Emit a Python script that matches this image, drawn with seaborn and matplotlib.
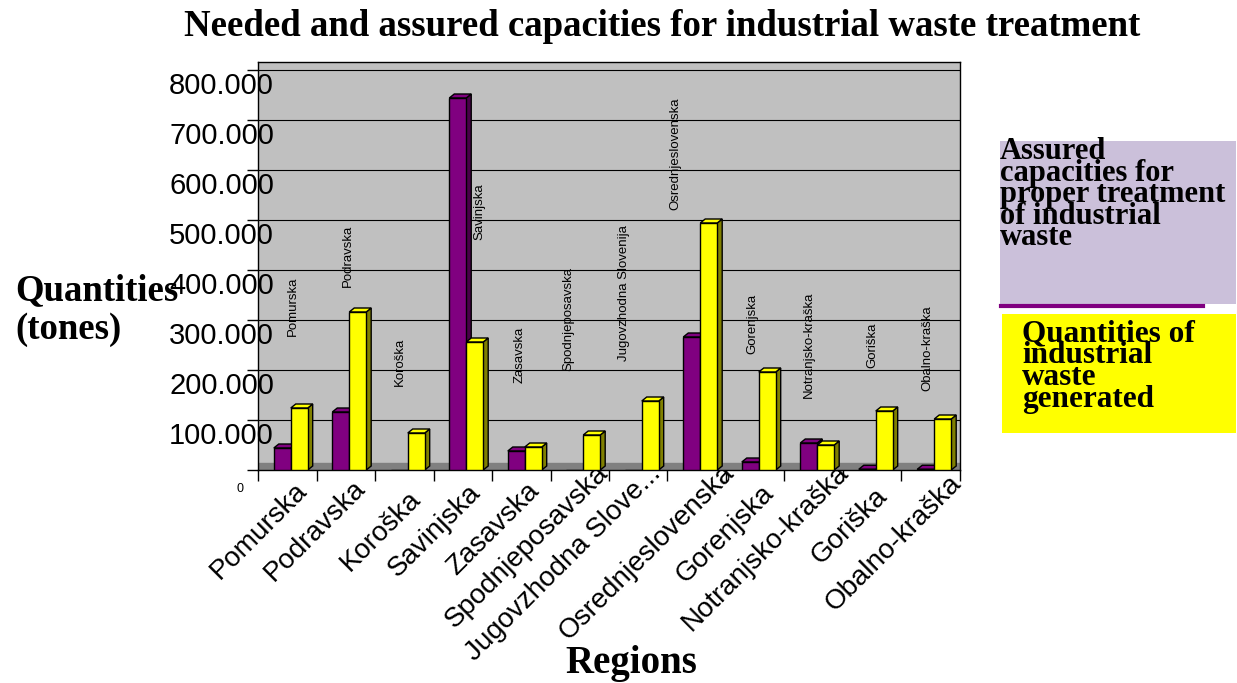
import numpy as np
import pandas as pd
import matplotlib.pyplot as plt
import matplotlib.transforms as mtransforms
from matplotlib.patches import Polygon, Rectangle
from matplotlib.lines import Line2D
import seaborn as sns

# regions and values (tonnes)
regions = ['Pomurska', 'Podravska', 'Koroška', 'Savinjska', 'Zasavska', 'Spodnjeposavska',
           'Jugovzhodna Slovenija', 'Osrednjeslovenska', 'Gorenjska', 'Notranjsko-kraška',
           'Goriška', 'Obalno-kraška']
tick_labels = ['Pomurska', 'Podravska', 'Koroška', 'Savinjska', 'Zasavska', 'Spodnjeposavska',
               'Jugovzhodna Slove...', 'Osrednjeslovenska', 'Gorenjska', 'Notranjsko-kraška',
               'Goriška', 'Obalno-kraška']
assured = [44000, 116000, 0, 744000, 38000, 0, 0, 266000, 16000, 54000, 1500, 1500]
generated = [124000, 316000, 74000, 256000, 46000, 70000, 138000, 494000, 196000, 50000, 118000, 102000]
series_names = ['Assured capacities for proper treatment of industrial waste',
                'Quantities of industrial waste generated']
y_ticks = [0, 100000, 200000, 300000, 400000, 500000, 600000, 700000, 800000]
y_tick_labels = ['0', '100.000', '200.000', '300.000', '400.000', '500.000', '600.000', '700.000', '800.000']

# where the rotated region names sit inside the plot
name_y = [267000, 366000, 168000, 459000, 174000, 198000, 218000, 519000, 232000, 143000, 204000, 158000]
name_dx = [0.09, 0.03, -0.07, 0.29, -0.03, -0.2, -0.24, -0.37, -0.05, -0.09, 0.0, -0.05]
# pixel shifts of the slanted x labels (right, down)
xlab_shift = [(16, 17), (15.5, 14), (12, 25), (14, 19), (13.5, 17), (25, -1),
              (19, 0), (33, -1), (15, 19), (31, -1), (11, 22), (27, 9)]

df = pd.DataFrame({
    'Region': regions * 2,
    'Value': assured + generated,
    'Series': [series_names[0]] * len(regions) + [series_names[1]] * len(regions),
})

W, H = 1237, 683
fig = plt.figure(figsize=(W / 100, H / 100), dpi=100)
ax = fig.add_axes([258 / W, 1 - 470 / H, (960 - 258) / W, (470 - 62) / H])
ax.set_facecolor('#C0C0C0')

sns.barplot(data=df, x='Region', y='Value', hue='Series', palette=['#800080', '#FFFF00'],
            width=0.58, saturation=1, edgecolor='black', linewidth=1, legend=False, ax=ax, zorder=3)

# fake 3D side and top faces
dx, dy = 0.085, 8000
side_cols = {'#800080': '#4A004A', '#FFFF00': '#808000'}
for p in list(ax.patches):
    p.set_x(p.get_x() + 0.06)
    x0, y0 = p.get_x(), p.get_y()
    w, h = p.get_width(), p.get_height()
    if h <= 0:
        continue
    fc = '#800080' if p.get_facecolor()[1] < 0.5 else '#FFFF00'
    side = Polygon([(x0 + w, y0), (x0 + w + dx, y0 + dy), (x0 + w + dx, y0 + h + dy), (x0 + w, y0 + h)],
                   closed=True, facecolor=side_cols[fc], edgecolor='black', linewidth=1, zorder=2.9)
    top = Polygon([(x0, y0 + h), (x0 + dx, y0 + h + dy), (x0 + w + dx, y0 + h + dy), (x0 + w, y0 + h)],
                  closed=True, facecolor=fc, edgecolor='black', linewidth=1, zorder=2.9)
    ax.add_patch(side)
    ax.add_patch(top)

# floor
ax.axhspan(0, 14000, color='#808080', zorder=1)

ax.set_ylim(0, 816000)
ax.set_xlim(-0.5, len(regions) - 0.5)
ax.set_yticks(y_ticks)
ax.set_yticklabels(y_tick_labels, fontsize=21, family='Liberation Sans')
ax.yaxis.grid(True, color='black', linewidth=0.8)
ax.set_axisbelow(True)
for s in ax.spines.values():
    s.set_color('black')
    s.set_linewidth(1)

ax.tick_params(axis='y', length=8, width=1, pad=0)
for i, lab in enumerate(ax.get_yticklabels()):
    if i == 0:
        lab.set_fontsize(9)
        lab.set_transform(lab.get_transform() + mtransforms.ScaledTranslation(-0.03, -0.17, fig.dpi_scale_trans))
    else:
        lab.set_transform(lab.get_transform() + mtransforms.ScaledTranslation(0.27, -0.13, fig.dpi_scale_trans))

ax.set_xticks(range(len(regions)))
ax.set_xticklabels(tick_labels, rotation=45, ha='right', va='center', rotation_mode='anchor',
                   fontsize=20, family='Liberation Sans')
ax.tick_params(axis='x', length=0, pad=0)
for lab, (sx, sy) in zip(ax.get_xticklabels(), xlab_shift):
    lab.set_transform(lab.get_transform() + mtransforms.ScaledTranslation(sx / 100, -sy / 100, fig.dpi_scale_trans))
ax.set_xticks(np.arange(len(regions) + 1) - 0.5, minor=True)
ax.tick_params(axis='x', which='minor', length=8, width=1, color='black')
ax.set_xlabel('')
ax.set_ylabel('')

# region names inside the plot
for i, name in enumerate(regions):
    ax.text(i + name_dx[i], name_y[i], name, rotation=90, ha='center', va='bottom',
            fontsize=9.5, family='Liberation Sans', zorder=4)

serif = 'Liberation Serif'
fig.text(662 / W, 1 - 26 / H, 'Needed and assured capacities for industrial waste treatment',
         ha='center', va='center', fontsize=26.5, fontweight='bold', family=serif)
fig.text(15 / W, 1 - 310 / H, 'Quantities\n(tones)', ha='left', va='center', fontsize=26.5,
         fontweight='bold', family=serif, linespacing=1.15)
fig.text(631 / W, 1 - 663 / H, 'Regions', ha='center', va='center', fontsize=28,
         fontweight='bold', family=serif)

# legend boxes
fig.patches.append(Rectangle((1000 / W, 1 - 304 / H), 236 / W, 163 / H, transform=fig.transFigure,
                             facecolor='#CBC0DA', edgecolor='none', zorder=0))
fig.lines.append(Line2D([1001 / W, 1203 / W], [1 - 306 / H, 1 - 306 / H], transform=fig.transFigure,
                        color='#800080', linewidth=3, zorder=1))
fig.patches.append(Rectangle((1002 / W, 1 - 433 / H), 234 / W, 119 / H, transform=fig.transFigure,
                             facecolor='#FFFF00', edgecolor='none', zorder=0))
fig.text(1000 / W, 1 - 137 / H, 'Assured\ncapacities for\nproper treatment\nof industrial\nwaste',
         ha='left', va='top', fontsize=22, fontweight='bold', family=serif, linespacing=0.66)
fig.text(1022 / W, 1 - 319 / H, 'Quantities of\nindustrial\nwaste\ngenerated',
         ha='left', va='top', fontsize=22.5, fontweight='bold', family=serif, linespacing=0.68)

fig.savefig('out.png', dpi=100)
